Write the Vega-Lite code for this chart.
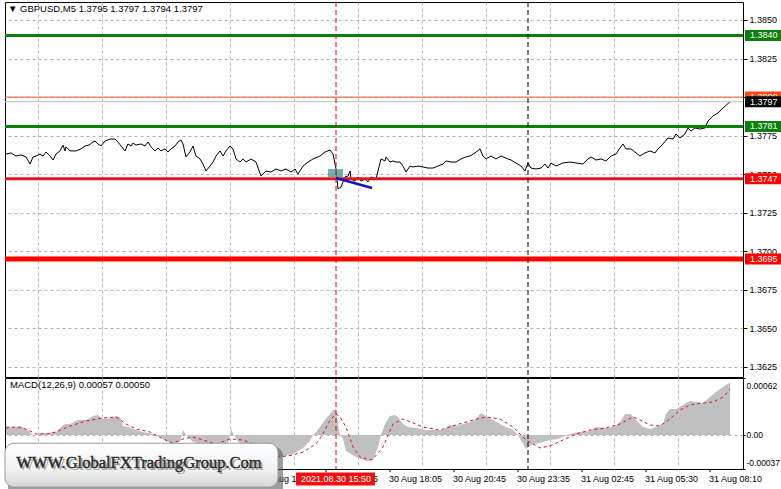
{
  "$schema": "https://vega.github.io/schema/vega-lite/v6.json",
  "background": "white",
  "padding": {"left": 2, "top": 1, "right": 4, "bottom": 0},
  "spacing": -2,
  "config": {
    "view": {"stroke": "black", "strokeWidth": 1},
    "font": "Liberation Sans",
    "axis": {"labelFont": "Liberation Sans", "labelFontSize": 9, "labelColor": "black", "tickColor": "black", "gridColor": "#b4b4b4", "gridDash": [3, 3], "gridWidth": 1},
    "title": {"font": "Liberation Sans", "fontSize": 9.5, "fontWeight": "normal", "color": "black", "anchor": "start", "frame": "group", "offset": -12},
    "text": {"font": "Liberation Sans", "fontSize": 9}
  },
  "resolve": {"scale": {"x": "independent", "y": "independent"}, "axis": {"x": "independent", "y": "independent"}},
  "datasets": {
    "one": [{"n": 1}],
    "times": [
      {"bar": 128, "label": "30 Aug 12:45"}, {"bar": 160, "label": "30 Aug 15:25"}, {"bar": 192, "label": "30 Aug 18:05"},
      {"bar": 224, "label": "30 Aug 20:45"}, {"bar": 256, "label": "30 Aug 23:35"}, {"bar": 288, "label": "31 Aug 02:45"},
      {"bar": 320, "label": "31 Aug 05:30"}, {"bar": 352, "label": "31 Aug 08:10"}
    ],
    "price": [
      {"bar": 0, "price": 1.37631}, {"bar": 2.5, "price": 1.37638}, {"bar": 5, "price": 1.37618}, {"bar": 7.5, "price": 1.37625},
      {"bar": 10, "price": 1.37612}, {"bar": 12, "price": 1.37566}, {"bar": 13.5, "price": 1.37612}, {"bar": 15, "price": 1.37618},
      {"bar": 17, "price": 1.37631}, {"bar": 18.5, "price": 1.37618}, {"bar": 20, "price": 1.37644}, {"bar": 22, "price": 1.37618},
      {"bar": 23.5, "price": 1.37592}, {"bar": 25, "price": 1.37631}, {"bar": 27, "price": 1.37651}, {"bar": 28.5, "price": 1.37689},
      {"bar": 29.5, "price": 1.37651}, {"bar": 30, "price": 1.37677}, {"bar": 32, "price": 1.37651}, {"bar": 35, "price": 1.37651},
      {"bar": 37.5, "price": 1.37664}, {"bar": 39.5, "price": 1.37683}, {"bar": 41.5, "price": 1.37689}, {"bar": 43.5, "price": 1.37709},
      {"bar": 44.5, "price": 1.37715}, {"bar": 46, "price": 1.37696}, {"bar": 47.5, "price": 1.37683}, {"bar": 49.5, "price": 1.37715},
      {"bar": 52, "price": 1.37728}, {"bar": 54.5, "price": 1.37728}, {"bar": 56, "price": 1.37709}, {"bar": 57.5, "price": 1.37683},
      {"bar": 59.5, "price": 1.37651}, {"bar": 61, "price": 1.37696}, {"bar": 62.5, "price": 1.37683}, {"bar": 63.5, "price": 1.37702},
      {"bar": 65, "price": 1.37689}, {"bar": 67.5, "price": 1.37696}, {"bar": 69.5, "price": 1.37683}, {"bar": 71, "price": 1.37709},
      {"bar": 72.5, "price": 1.37677}, {"bar": 74.5, "price": 1.37651}, {"bar": 76, "price": 1.3767}, {"bar": 77.5, "price": 1.37651},
      {"bar": 79.5, "price": 1.37664}, {"bar": 81, "price": 1.37644}, {"bar": 82.5, "price": 1.37664}, {"bar": 84.5, "price": 1.37683},
      {"bar": 86, "price": 1.37709}, {"bar": 87.5, "price": 1.37722}, {"bar": 88.5, "price": 1.37696}, {"bar": 90, "price": 1.37612},
      {"bar": 92, "price": 1.37644}, {"bar": 93.5, "price": 1.37683}, {"bar": 95, "price": 1.37618}, {"bar": 97, "price": 1.37599},
      {"bar": 98.5, "price": 1.37566}, {"bar": 100, "price": 1.37521}, {"bar": 102, "price": 1.37553}, {"bar": 103.5, "price": 1.37579},
      {"bar": 105, "price": 1.37618}, {"bar": 107, "price": 1.37651}, {"bar": 108.5, "price": 1.37618}, {"bar": 110, "price": 1.37651},
      {"bar": 112, "price": 1.37683}, {"bar": 113.5, "price": 1.37664}, {"bar": 115, "price": 1.37599}, {"bar": 117, "price": 1.37579},
      {"bar": 118.5, "price": 1.37599}, {"bar": 120, "price": 1.37579}, {"bar": 122.5, "price": 1.37599}, {"bar": 125, "price": 1.37579},
      {"bar": 127.5, "price": 1.37488}, {"bar": 130, "price": 1.37521}, {"bar": 132.5, "price": 1.37514}, {"bar": 135, "price": 1.37534},
      {"bar": 137.5, "price": 1.37521}, {"bar": 140, "price": 1.37534}, {"bar": 142.5, "price": 1.37514}, {"bar": 144.5, "price": 1.37534},
      {"bar": 146, "price": 1.37501}, {"bar": 148.5, "price": 1.37553}, {"bar": 151, "price": 1.37579}, {"bar": 153.5, "price": 1.37599},
      {"bar": 157, "price": 1.37618}, {"bar": 159.5, "price": 1.37644}, {"bar": 162, "price": 1.37657}, {"bar": 163.5, "price": 1.37631},
      {"bar": 165, "price": 1.37534}, {"bar": 166, "price": 1.37404}, {"bar": 167.5, "price": 1.37417}, {"bar": 169.5, "price": 1.37482},
      {"bar": 171, "price": 1.37488}, {"bar": 172, "price": 1.37521}, {"bar": 172.5, "price": 1.37469}, {"bar": 174.5, "price": 1.37456},
      {"bar": 176, "price": 1.37482}, {"bar": 177.5, "price": 1.37456}, {"bar": 179.5, "price": 1.37469}, {"bar": 181, "price": 1.3745},
      {"bar": 182.5, "price": 1.37482}, {"bar": 185, "price": 1.37469}, {"bar": 187.5, "price": 1.37599}, {"bar": 189.5, "price": 1.37586},
      {"bar": 190, "price": 1.37612}, {"bar": 192, "price": 1.37579}, {"bar": 193.5, "price": 1.37586}, {"bar": 195, "price": 1.37579},
      {"bar": 197, "price": 1.37579}, {"bar": 198.5, "price": 1.37553}, {"bar": 200, "price": 1.37514}, {"bar": 202, "price": 1.37553},
      {"bar": 203.5, "price": 1.37547}, {"bar": 206, "price": 1.37553}, {"bar": 208.5, "price": 1.37547}, {"bar": 211, "price": 1.3754},
      {"bar": 213.5, "price": 1.3754}, {"bar": 216, "price": 1.37553}, {"bar": 218.5, "price": 1.37566}, {"bar": 220, "price": 1.37586},
      {"bar": 222.5, "price": 1.37579}, {"bar": 225, "price": 1.37579}, {"bar": 227.5, "price": 1.37599}, {"bar": 230, "price": 1.37612},
      {"bar": 232, "price": 1.37618}, {"bar": 234.5, "price": 1.37638}, {"bar": 237, "price": 1.37664}, {"bar": 238.5, "price": 1.37618},
      {"bar": 240, "price": 1.37599}, {"bar": 242.5, "price": 1.37618}, {"bar": 245, "price": 1.37599}, {"bar": 247.5, "price": 1.37618},
      {"bar": 251, "price": 1.37599}, {"bar": 252.5, "price": 1.37592}, {"bar": 255, "price": 1.37573}, {"bar": 257.5, "price": 1.37553},
      {"bar": 259.5, "price": 1.37521}, {"bar": 261, "price": 1.37573}, {"bar": 262.5, "price": 1.3754}, {"bar": 265, "price": 1.37534},
      {"bar": 267.5, "price": 1.3754}, {"bar": 269.5, "price": 1.37566}, {"bar": 271, "price": 1.3754}, {"bar": 272.5, "price": 1.37573},
      {"bar": 275, "price": 1.37553}, {"bar": 278.5, "price": 1.37573}, {"bar": 282, "price": 1.37579}, {"bar": 285, "price": 1.37573},
      {"bar": 288.5, "price": 1.37566}, {"bar": 291, "price": 1.37599}, {"bar": 292.5, "price": 1.37612}, {"bar": 295, "price": 1.37592},
      {"bar": 297.5, "price": 1.37599}, {"bar": 300, "price": 1.37586}, {"bar": 302.5, "price": 1.37618}, {"bar": 305, "price": 1.37631},
      {"bar": 307, "price": 1.3767}, {"bar": 308.5, "price": 1.37696}, {"bar": 310, "price": 1.37664}, {"bar": 312.5, "price": 1.37664},
      {"bar": 315, "price": 1.37638}, {"bar": 317, "price": 1.37618}, {"bar": 319.5, "price": 1.37638}, {"bar": 322, "price": 1.37651},
      {"bar": 324.5, "price": 1.37638}, {"bar": 326, "price": 1.37664}, {"bar": 328.5, "price": 1.37696}, {"bar": 331, "price": 1.37735},
      {"bar": 333.5, "price": 1.37728}, {"bar": 335, "price": 1.37761}, {"bar": 337, "price": 1.37735}, {"bar": 339.5, "price": 1.37761},
      {"bar": 341, "price": 1.378}, {"bar": 342.5, "price": 1.3778}, {"bar": 344.5, "price": 1.378}, {"bar": 347, "price": 1.37793},
      {"bar": 349.5, "price": 1.378}, {"bar": 351, "price": 1.37845}, {"bar": 353.5, "price": 1.37878}, {"bar": 356, "price": 1.37897},
      {"bar": 358.5, "price": 1.37929}, {"bar": 362, "price": 1.3797}
    ],
    "hist": [
      {"bar": 0, "macd": 0.000098}, {"bar": 3.5, "macd": 0.000087}, {"bar": 7, "macd": 0.000098}, {"bar": 10, "macd": 0.000065},
      {"bar": 12, "macd": 0.000033}, {"bar": 13.5, "macd": -0.000022}, {"bar": 15, "macd": 0}, {"bar": 17, "macd": 0.000022},
      {"bar": 21, "macd": 0.000022}, {"bar": 25, "macd": 0.000033}, {"bar": 27.5, "macd": 0.000087}, {"bar": 29.5, "macd": 0.00012},
      {"bar": 32, "macd": 0.00012}, {"bar": 36, "macd": 0.000163}, {"bar": 40, "macd": 0.000163}, {"bar": 43.5, "macd": 0.000207},
      {"bar": 46, "macd": 0.000217}, {"bar": 48.5, "macd": 0.000174}, {"bar": 52, "macd": 0.000185}, {"bar": 55, "macd": 0.000207},
      {"bar": 57, "macd": 0.000196}, {"bar": 58.5, "macd": 0.000098}, {"bar": 61, "macd": 0.000087}, {"bar": 63.5, "macd": 0.000065},
      {"bar": 68.5, "macd": 0.000033}, {"bar": 73.5, "macd": 0.000011}, {"bar": 77, "macd": -0.000022}, {"bar": 80, "macd": -0.000065},
      {"bar": 83.5, "macd": -0.000098}, {"bar": 87, "macd": -0.000076}, {"bar": 88.5, "macd": 0.000054}, {"bar": 90, "macd": 0},
      {"bar": 93.5, "macd": -0.000076}, {"bar": 98.5, "macd": -0.000098}, {"bar": 103.5, "macd": -0.000109}, {"bar": 108.5, "macd": -0.00012},
      {"bar": 111.5, "macd": -0.000065}, {"bar": 112.5, "macd": 0.000065}, {"bar": 114, "macd": 0}, {"bar": 116, "macd": -0.000076},
      {"bar": 121, "macd": -0.000109}, {"bar": 126, "macd": -0.000152}, {"bar": 131, "macd": -0.000207}, {"bar": 137, "macd": -0.000239},
      {"bar": 143.5, "macd": -0.000207}, {"bar": 148.5, "macd": -0.000141}, {"bar": 152, "macd": -0.000065}, {"bar": 153.5, "macd": 0},
      {"bar": 155, "macd": 0.000033}, {"bar": 157, "macd": 0.000087}, {"bar": 159.5, "macd": 0.000163}, {"bar": 162, "macd": 0.000228},
      {"bar": 163.5, "macd": 0.000272}, {"bar": 165, "macd": 0.000272}, {"bar": 166, "macd": 0.00012}, {"bar": 167, "macd": 0},
      {"bar": 168.5, "macd": -0.000043}, {"bar": 170, "macd": -0.000174}, {"bar": 175, "macd": -0.000239}, {"bar": 180, "macd": -0.000283},
      {"bar": 183.5, "macd": -0.000272}, {"bar": 186, "macd": -0.000131}, {"bar": 187.5, "macd": 0}, {"bar": 189.5, "macd": 0.00012},
      {"bar": 192, "macd": 0.000207}, {"bar": 194.5, "macd": 0.000217}, {"bar": 196, "macd": 0.000196}, {"bar": 198.5, "macd": 0.00012},
      {"bar": 201, "macd": 0.000087}, {"bar": 205, "macd": 0.000076}, {"bar": 210, "macd": 0.000054}, {"bar": 215, "macd": 0.000054},
      {"bar": 218.5, "macd": 0.000054}, {"bar": 222, "macd": 0.000109}, {"bar": 225, "macd": 0.000098}, {"bar": 228.5, "macd": 0.00012},
      {"bar": 232, "macd": 0.000141}, {"bar": 235, "macd": 0.000174}, {"bar": 237.5, "macd": 0.000239}, {"bar": 240, "macd": 0.000207},
      {"bar": 243.5, "macd": 0.000163}, {"bar": 247, "macd": 0.00012}, {"bar": 250, "macd": 0.000087}, {"bar": 253.5, "macd": 0.000054},
      {"bar": 256, "macd": 0}, {"bar": 258.5, "macd": -0.000098}, {"bar": 260, "macd": -0.000152}, {"bar": 262.5, "macd": -0.000109},
      {"bar": 265, "macd": -0.000098}, {"bar": 268.5, "macd": -0.000076}, {"bar": 272, "macd": -0.000054}, {"bar": 276, "macd": -0.000043},
      {"bar": 279.5, "macd": -0.000011}, {"bar": 282, "macd": 0.000011}, {"bar": 287, "macd": 0.000033}, {"bar": 292, "macd": 0.000043},
      {"bar": 295, "macd": 0.000087}, {"bar": 300, "macd": 0.000076}, {"bar": 303.5, "macd": 0.000087}, {"bar": 307, "macd": 0.000141},
      {"bar": 309.5, "macd": 0.000228}, {"bar": 312.5, "macd": 0.000228}, {"bar": 315, "macd": 0.000163}, {"bar": 318.5, "macd": 0.000087},
      {"bar": 322, "macd": 0.000065}, {"bar": 325, "macd": 0.000087}, {"bar": 328.5, "macd": 0.00012}, {"bar": 330, "macd": 0.000228},
      {"bar": 332, "macd": 0.000283}, {"bar": 335, "macd": 0.000283}, {"bar": 338.5, "macd": 0.000326}, {"bar": 342, "macd": 0.00037},
      {"bar": 345, "macd": 0.000359}, {"bar": 348.5, "macd": 0.000348}, {"bar": 352, "macd": 0.000413}, {"bar": 355, "macd": 0.000468},
      {"bar": 358.5, "macd": 0.000522}, {"bar": 362, "macd": 0.00057}
    ],
    "signal": [
      {"bar": 0, "signal": 0.000076}, {"bar": 5, "signal": 0.000087}, {"bar": 10, "signal": 0.000065}, {"bar": 15, "signal": 0.000011},
      {"bar": 20, "signal": 0.000011}, {"bar": 25, "signal": 0.000033}, {"bar": 32, "signal": 0.000098}, {"bar": 40, "signal": 0.000152},
      {"bar": 48.5, "signal": 0.000185}, {"bar": 55, "signal": 0.000196}, {"bar": 60, "signal": 0.00012}, {"bar": 65, "signal": 0.000065},
      {"bar": 72, "signal": 0.000033}, {"bar": 78.5, "signal": -0.000043}, {"bar": 83.5, "signal": -0.000087}, {"bar": 88.5, "signal": -0.000043},
      {"bar": 93.5, "signal": -0.000022}, {"bar": 98.5, "signal": -0.000054}, {"bar": 105, "signal": -0.000098}, {"bar": 112, "signal": -0.000043},
      {"bar": 118.5, "signal": -0.000054}, {"bar": 125, "signal": -0.000109}, {"bar": 131, "signal": -0.000185}, {"bar": 137, "signal": -0.000239},
      {"bar": 143.5, "signal": -0.000218}, {"bar": 148.5, "signal": -0.000185}, {"bar": 155, "signal": -0.000098}, {"bar": 158.5, "signal": 0.000011},
      {"bar": 162, "signal": 0.000163}, {"bar": 165, "signal": 0.000228}, {"bar": 167, "signal": 0.000196}, {"bar": 170, "signal": 0.000087},
      {"bar": 173.5, "signal": -0.000131}, {"bar": 177, "signal": -0.000239}, {"bar": 182, "signal": -0.000272}, {"bar": 183.5, "signal": -0.000261},
      {"bar": 188.5, "signal": -0.000131}, {"bar": 193.5, "signal": 0.00012}, {"bar": 198.5, "signal": 0.000174}, {"bar": 203.5, "signal": 0.000131},
      {"bar": 208.5, "signal": 0.000087}, {"bar": 217, "signal": 0.000054}, {"bar": 225, "signal": 0.000109}, {"bar": 233.5, "signal": 0.000163},
      {"bar": 240, "signal": 0.000196}, {"bar": 247, "signal": 0.000174}, {"bar": 253.5, "signal": 0.000087}, {"bar": 260, "signal": -0.000054},
      {"bar": 267, "signal": -0.000141}, {"bar": 272, "signal": -0.00012}, {"bar": 278.5, "signal": -0.000054}, {"bar": 285, "signal": 0.000011},
      {"bar": 292, "signal": 0.000054}, {"bar": 300, "signal": 0.000076}, {"bar": 307, "signal": 0.00012}, {"bar": 313.5, "signal": 0.000196},
      {"bar": 317, "signal": 0.000163}, {"bar": 322, "signal": 0.000109}, {"bar": 327, "signal": 0.000098}, {"bar": 332, "signal": 0.000174},
      {"bar": 337, "signal": 0.000272}, {"bar": 342, "signal": 0.000326}, {"bar": 348.5, "signal": 0.000348}, {"bar": 353.5, "signal": 0.000359},
      {"bar": 358.5, "signal": 0.000413}, {"bar": 362, "signal": 0.0005}
    ]
  },
  "vconcat": [
    {
      "width": 738,
      "height": 375,
      "title": {"text": "▼  GBPUSD,M5  1.3795 1.3797 1.3794 1.3797", "dx": 3},
      "layer": [
        {
          "data": {"name": "price"},
          "mark": {"type": "line", "color": "black", "strokeWidth": 1},
          "encoding": {
            "x": {"field": "bar", "type": "quantitative", "scale": {"domain": [-0.5, 368.5], "nice": false, "zero": false},
              "axis": {"values": [16, 32, 48, 64, 80, 96, 112, 128, 144, 160, 176, 192, 208, 224, 240, 256, 272, 288, 304, 320, 336, 352], "labels": false, "ticks": false, "grid": true, "domain": false, "title": null}},
            "y": {"field": "price", "type": "quantitative", "scale": {"domain": [1.361851, 1.386167], "nice": false, "zero": false},
              "axis": {"orient": "right", "values": [1.385, 1.3825, 1.38, 1.3775, 1.375, 1.3725, 1.37, 1.3675, 1.365, 1.3625], "format": ".4f", "grid": true, "title": null, "tickSize": 4, "labelPadding": 2, "domain": false}}
          }
        },
        {
          "data": {"values": [{"level": 1.384}, {"level": 1.3781}]},
          "mark": {"type": "rule", "color": "#0a800a", "strokeWidth": 3},
          "encoding": {"y": {"field": "level", "type": "quantitative"}}
        },
        {
          "data": {"values": [{"level": 1.3747}]},
          "mark": {"type": "rule", "color": "#e0161e", "strokeWidth": 3},
          "encoding": {"y": {"field": "level", "type": "quantitative"}}
        },
        {
          "data": {"values": [{"level": 1.3695}]},
          "mark": {"type": "rule", "color": "#ff0000", "strokeWidth": 5},
          "encoding": {"y": {"field": "level", "type": "quantitative"}}
        },
        {
          "data": {"values": [{"level": 1.38}]},
          "mark": {"type": "rule", "color": "#f05a28", "strokeWidth": 1},
          "encoding": {"y": {"field": "level", "type": "quantitative"}}
        },
        {
          "data": {"values": [{"level": 1.3797}]},
          "mark": {"type": "rule", "color": "#c8bcbc", "strokeWidth": 1},
          "encoding": {"y": {"field": "level", "type": "quantitative"}}
        },
        {
          "data": {"values": [{"bar": 165, "price": 1.37475}, {"bar": 183, "price": 1.37411}]},
          "mark": {"type": "line", "color": "#1414c0", "strokeWidth": 2.5},
          "encoding": {
            "x": {"field": "bar", "type": "quantitative"},
            "y": {"field": "price", "type": "quantitative"}
          }
        },
        {
          "data": {"values": [{"bar": 161, "bar2": 168.5, "price": 1.37534, "price2": 1.37482}]},
          "mark": {"type": "rect", "color": "#4f9c9c", "opacity": 0.8},
          "encoding": {
            "x": {"field": "bar", "type": "quantitative"},
            "x2": {"field": "bar2"},
            "y": {"field": "price", "type": "quantitative"},
            "y2": {"field": "price2"}
          }
        },
        {
          "data": {"name": "one"},
          "mark": {"type": "rule", "color": "#e00000", "strokeWidth": 1, "strokeDash": [5, 3]},
          "encoding": {"x": {"datum": 165, "type": "quantitative"}}
        },
        {
          "data": {"name": "one"},
          "mark": {"type": "rule", "color": "black", "strokeWidth": 1, "strokeDash": [5, 3]},
          "encoding": {"x": {"datum": 261, "type": "quantitative"}}
        },
        {
          "data": {"values": [{"level": 1.384}, {"level": 1.3781}]},
          "mark": {"type": "rule", "color": "#0a800a", "strokeWidth": 11},
          "encoding": {
            "x": {"datum": 369.5, "type": "quantitative"}, "x2": {"datum": 387.5},
            "y": {"field": "level", "type": "quantitative"}
          }
        },
        {
          "data": {"values": [{"level": 1.3747}, {"level": 1.3695}]},
          "mark": {"type": "rule", "color": "#ff0000", "strokeWidth": 11},
          "encoding": {
            "x": {"datum": 369.5, "type": "quantitative"}, "x2": {"datum": 387.5},
            "y": {"field": "level", "type": "quantitative"}
          }
        },
        {
          "data": {"values": [{"level": 1.38}]},
          "mark": {"type": "rule", "color": "#ff4a14", "strokeWidth": 11},
          "encoding": {
            "x": {"datum": 369.5, "type": "quantitative"}, "x2": {"datum": 387.5},
            "y": {"field": "level", "type": "quantitative"}
          }
        },
        {
          "data": {"values": [{"level": 1.384}, {"level": 1.3781}, {"level": 1.3747}, {"level": 1.3695}, {"level": 1.38}]},
          "mark": {"type": "text", "color": "white", "align": "left", "baseline": "middle", "fontSize": 9},
          "encoding": {
            "x": {"datum": 372, "type": "quantitative"},
            "y": {"field": "level", "type": "quantitative"},
            "text": {"field": "level", "type": "quantitative", "format": ".4f"}
          }
        },
        {
          "data": {"values": [{"level": 1.3797}]},
          "mark": {"type": "rule", "color": "black", "strokeWidth": 11},
          "encoding": {
            "x": {"datum": 369.5, "type": "quantitative"}, "x2": {"datum": 387.5},
            "y": {"field": "level", "type": "quantitative"}
          }
        },
        {
          "data": {"values": [{"level": 1.3797}]},
          "mark": {"type": "text", "color": "white", "align": "left", "baseline": "middle", "fontSize": 9},
          "encoding": {
            "x": {"datum": 372, "type": "quantitative"},
            "y": {"field": "level", "type": "quantitative"},
            "text": {"field": "level", "type": "quantitative", "format": ".4f"}
          }
        }
      ]
    },
    {
      "width": 738,
      "height": 91,
      "title": {"text": "MACD(12,26,9) 0.00057 0.00050", "dx": 5},
      "layer": [
        {
          "data": {"name": "hist"},
          "mark": {"type": "area", "color": "#c0c0c0"},
          "encoding": {
            "x": {"field": "bar", "type": "quantitative", "scale": {"domain": [-0.5, 368.5], "nice": false, "zero": false},
              "axis": {"values": [16, 32, 48, 64, 80, 96, 112, 128, 144, 160, 176, 192, 208, 224, 240, 256, 272, 288, 304, 320, 336, 352], "grid": true, "domain": false, "title": null, "labels": false, "ticks": false}},
            "y": {"field": "macd", "type": "quantitative", "scale": {"domain": [-0.00037, 0.00062], "nice": false, "zero": false},
              "axis": {"orient": "right", "values": [0.00062, 0, -0.00037], "labelExpr": "datum.value > 0.0001 ? '0.00062' : (datum.value < -0.0001 ? '-0.00037' : '0.00')", "labelFlush": false, "labelBaseline": "middle", "labelFontSize": 8.5,
                "labelOffset": {"condition": [{"test": "datum.value > 0.0001", "value": 7}, {"test": "datum.value < -0.0001", "value": -7}], "value": 0},
                "grid": true,
                "gridOpacity": {"condition": {"test": "datum.value == 0", "value": 1}, "value": 0}, "title": null, "domain": false, "tickSize": 2, "labelPadding": 1}},
            "y2": {"datum": 0}
          }
        },
        {
          "data": {"name": "signal"},
          "mark": {"type": "line", "color": "#dd1030", "strokeWidth": 1, "strokeDash": [3, 3]},
          "encoding": {
            "x": {"field": "bar", "type": "quantitative"},
            "y": {"field": "signal", "type": "quantitative"}
          }
        },
        {
          "data": {"name": "one"},
          "mark": {"type": "rule", "color": "#e00000", "strokeWidth": 1, "strokeDash": [5, 3]},
          "encoding": {"x": {"datum": 165, "type": "quantitative"}}
        },
        {
          "data": {"name": "one"},
          "mark": {"type": "rule", "color": "black", "strokeWidth": 1, "strokeDash": [5, 3]},
          "encoding": {"x": {"datum": 261, "type": "quantitative"}}
        },
        {
          "data": {"name": "times"},
          "mark": {"type": "rule", "color": "black", "strokeWidth": 1},
          "encoding": {
            "x": {"field": "bar", "type": "quantitative"},
            "y": {"datum": -0.00037, "type": "quantitative"}, "y2": {"datum": -0.000405}
          }
        },
        {
          "data": {"name": "times"},
          "mark": {"type": "text", "color": "black", "align": "left", "baseline": "middle", "fontSize": 9, "dx": -1},
          "encoding": {
            "x": {"field": "bar", "type": "quantitative"},
            "y": {"datum": -0.000479, "type": "quantitative"},
            "text": {"field": "label"}
          }
        },
        {
          "data": {"name": "one"},
          "mark": {"type": "rule", "color": "#f01010", "strokeWidth": 13},
          "encoding": {
            "x": {"datum": 145, "type": "quantitative"}, "x2": {"datum": 184.5},
            "y": {"datum": -0.000479, "type": "quantitative"}
          }
        },
        {
          "data": {"name": "one"},
          "mark": {"type": "text", "color": "white", "align": "center", "baseline": "middle", "fontSize": 9},
          "encoding": {
            "x": {"datum": 165, "type": "quantitative"},
            "y": {"datum": -0.000479, "type": "quantitative"},
            "text": {"value": "2021.08.30 15:50"}
          }
        },
        {
          "data": {"name": "one"},
          "mark": {"type": "rect", "color": "#4a4a4a", "opacity": 0.55, "cornerRadius": 9},
          "encoding": {
            "x": {"datum": 1, "type": "quantitative"}, "x2": {"datum": 138.5},
            "y": {"datum": -0.00013, "type": "quantitative"}, "y2": {"datum": -0.0007}
          }
        },
        {
          "data": {"name": "one"},
          "mark": {"type": "rect", "cornerRadius": 9, "stroke": "#9a9a9a", "strokeWidth": 1,
            "fill": {"gradient": "linear", "x1": 0, "y1": 0, "x2": 0, "y2": 1, "stops": [{"offset": 0, "color": "#ffffff"}, {"offset": 0.6, "color": "#f2f2f2"}, {"offset": 1, "color": "#d6d6d6"}]}},
          "encoding": {
            "x": {"datum": -0.5, "type": "quantitative"}, "x2": {"datum": 136},
            "y": {"datum": -0.00009, "type": "quantitative"}, "y2": {"datum": -0.000566}
          }
        },
        {
          "data": {"name": "one"},
          "mark": {"type": "text", "color": "#8a8a8a", "align": "center", "baseline": "alphabetic", "font": "Liberation Serif", "fontSize": 16.5, "dx": 2, "dy": 2, "opacity": 0.8},
          "encoding": {
            "x": {"datum": 66.5, "type": "quantitative"},
            "y": {"datum": -0.00036, "type": "quantitative"},
            "text": {"value": "WWW.GlobalFXTradingGroup.Com"}
          }
        },
        {
          "data": {"name": "one"},
          "mark": {"type": "text", "color": "#2a2a2a", "align": "center", "baseline": "alphabetic", "font": "Liberation Serif", "fontSize": 16.5, "stroke": "#2a2a2a", "strokeWidth": 0.4},
          "encoding": {
            "x": {"datum": 66.5, "type": "quantitative"},
            "y": {"datum": -0.00036, "type": "quantitative"},
            "text": {"value": "WWW.GlobalFXTradingGroup.Com"}
          }
        }
      ]
    }
  ]
}
